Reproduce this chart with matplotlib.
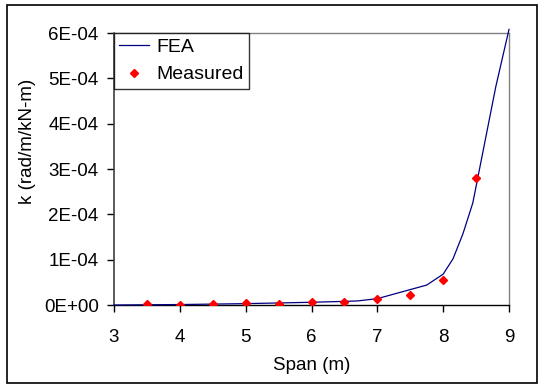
import matplotlib
matplotlib.use("Agg")
import matplotlib.pyplot as plt
from matplotlib.patches import Rectangle
import numpy as np

plt.rcParams['font.family'] = ['Liberation Sans', 'DejaVu Sans']

# FEA curve (k in units of 1E-05)
fea_span = [3.0, 3.5, 4.0, 4.5, 5.0, 5.5, 6.0, 6.5, 6.7, 7.0, 7.75, 8.0, 8.15, 8.3, 8.45, 8.6, 8.8, 9.0]
fea_k = [0.0, 0.05, 0.1, 0.2, 0.3, 0.45, 0.6, 0.8, 0.9, 1.4, 4.4, 6.8, 10.2, 15.7, 22.5, 33.5, 48.2, 60.8]

# measured points
meas_span = [3.5, 4.0, 4.5, 5.0, 5.5, 6.0, 6.5, 7.0, 7.5, 8.0, 8.5]
meas_k = [0.15, 0.0, 0.2, 0.4, 0.2, 0.6, 0.65, 1.25, 2.2, 5.5, 28.0]

yticks = [0, 1e-4, 2e-4, 3e-4, 4e-4, 5e-4, 6e-4]
ytick_labels = ['0E+00', '1E-04', '2E-04', '3E-04', '4E-04', '5E-04', '6E-04']

fig = plt.figure(figsize=(5.38, 3.84), dpi=100)
ax = fig.add_axes([114/538, 1 - 305/384, (509-114)/538, (305-33)/384])

ax.plot(fea_span, np.array(fea_k)*1e-5, color='#000080', lw=0.9, label='FEA', clip_on=False, zorder=3)
ax.plot(meas_span, np.array(meas_k)*1e-5, ls='none', marker='D', ms=4.2, color='#ff0000',
        label='Measured', zorder=4)

ax.set_xlim(3, 9)
ax.set_ylim(0, 6e-4)
ax.set_xticks([3, 4, 5, 6, 7, 8, 9])
ax.set_yticks(yticks)
ax.set_yticklabels(ytick_labels)
ax.tick_params(labelsize=13.5, length=5, width=1, color='#000000', direction='out')
ax.tick_params(axis='x', pad=12)
ax.tick_params(axis='y', pad=6)

for s in ['top', 'right']:
    ax.spines[s].set_color('#808080')
    ax.spines[s].set_linewidth(1)
ax.spines['left'].set_color('#404040')
ax.spines['left'].set_linewidth(1.2)
ax.spines['bottom'].set_color('#000000')
ax.spines['bottom'].set_linewidth(1)

ax.set_xlabel('Span (m)', fontsize=13.5, labelpad=8)
ax.set_ylabel('k (rad/m/kN-m)', fontsize=13.5)
ax.yaxis.set_label_coords(-0.198, 0.6)

leg = ax.legend(loc='upper left', fontsize=14, frameon=True, fancybox=False,
                edgecolor='#000000', borderaxespad=0, handlelength=1.5,
                handletextpad=0.4, borderpad=0.28, labelspacing=0.5, numpoints=1)
leg.get_frame().set_linewidth(1)

fig.patches.append(Rectangle((7/538, 1/384), 530/538, 378/384, transform=fig.transFigure,
                             fill=False, edgecolor='#000000', lw=1.2))

fig.savefig('out.png', dpi=100)
